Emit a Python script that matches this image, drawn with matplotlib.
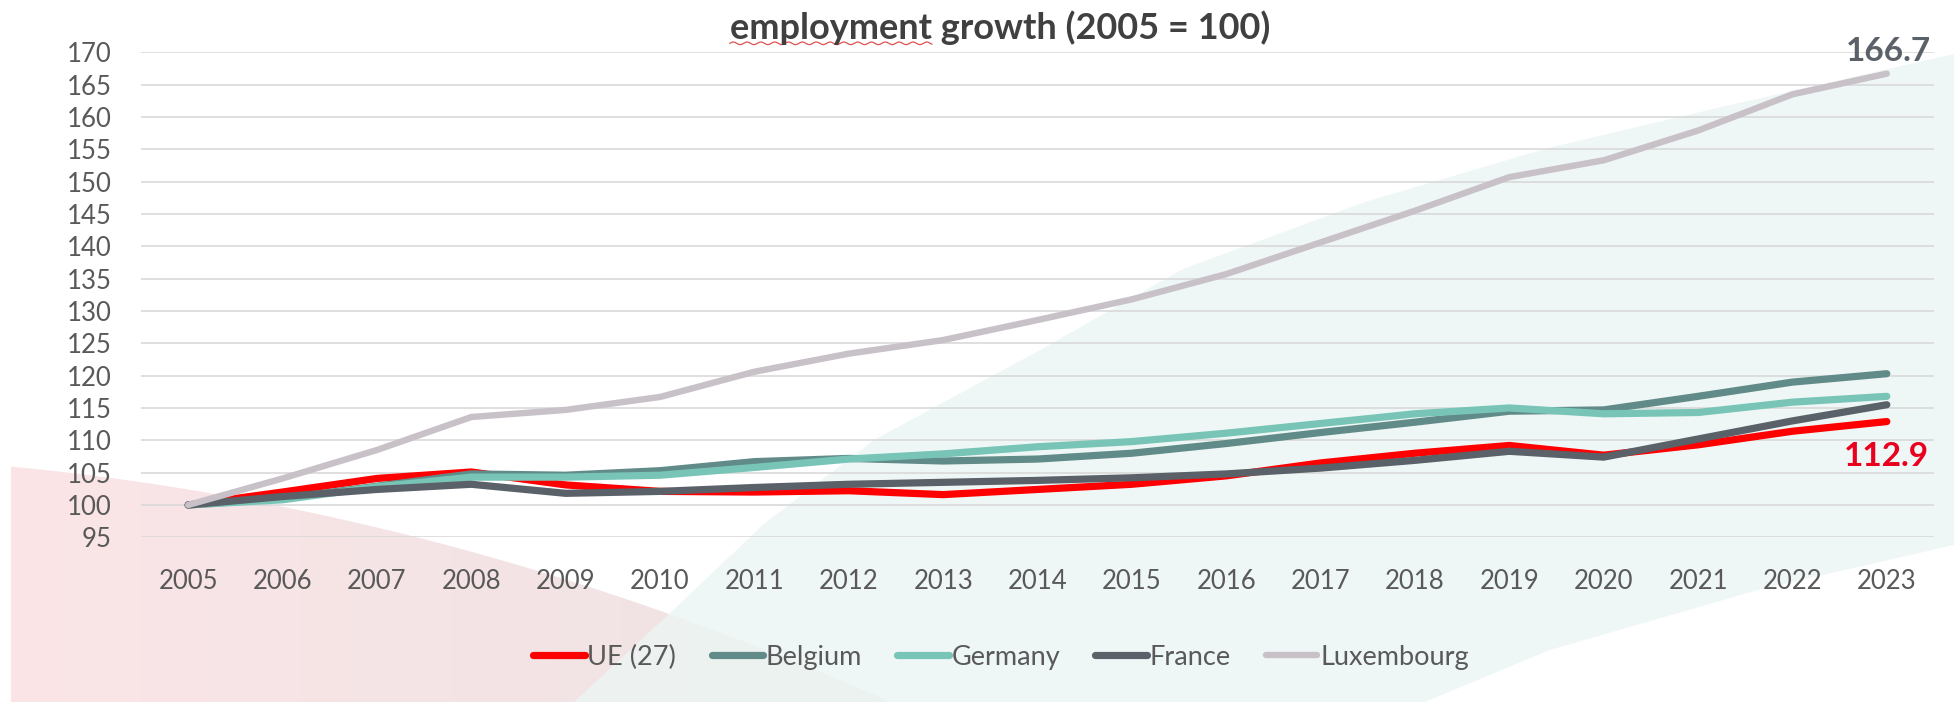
import numpy as np
import matplotlib
matplotlib.use("Agg")
import matplotlib.pyplot as plt
from matplotlib.patches import Polygon

# ---------------- data ----------------
years = [str(y) for y in range(2005, 2024)]
ue = [100, 102.0, 104.1, 105.1, 103.1, 102.1, 102.0, 102.2, 101.6, 102.4,
      103.2, 104.5, 106.5, 108.0, 109.2, 107.7, 109.3, 111.4, 112.9]
belgium = [100, 101.0, 102.9, 104.8, 104.6, 105.3, 106.7, 107.2, 106.8, 107.1,
           108.0, 109.5, 111.2, 112.8, 114.5, 114.7, 116.8, 119.0, 120.3]
germany = [100, 100.8, 102.8, 104.3, 104.3, 104.6, 105.8, 107.1, 107.9, 109.0,
           109.8, 111.1, 112.6, 114.1, 115.0, 114.1, 114.3, 115.9, 116.8]
france = [100, 101.3, 102.4, 103.2, 101.8, 102.1, 102.7, 103.2, 103.5, 103.8,
          104.2, 104.8, 105.7, 106.9, 108.3, 107.4, 110.2, 113.0, 115.5]
luxembourg = [100, 104.1, 108.5, 113.6, 114.7, 116.7, 120.6, 123.4, 125.5, 128.6,
              131.8, 135.7, 140.6, 145.5, 150.7, 153.3, 157.9, 163.5, 166.7]
series_names = ["UE (27)", "Belgium", "Germany", "France", "Luxembourg"]
yticks = list(range(95, 171, 5))

colors = ["#FF0000", "#618B88", "#78C5B7", "#5B6169", "#C8C1C8"]

plt.rcParams['font.family'] = ['Lato', 'DejaVu Sans']

W, H = 1954, 702
fig = plt.figure(figsize=(W / 100, H / 100), dpi=100)

# ---------------- decorative background ----------------
bg = fig.add_axes([0, 0, 1, 1], zorder=0)
bg.set_xlim(0, W)
bg.set_ylim(H, 0)
bg.axis('off')

# pink shape (lower-left) with horizontal gradient
px = np.array([11, 191, 383, 542, 701, 893])
py = np.array([467, 490, 527, 573, 627, 702])
cf = np.polyfit(px, py, 2)
xx = np.linspace(11, 893, 60)
yy = np.polyval(cf, xx)
pink_pts = [(11, 702)] + list(zip(xx, yy)) + [(893, 702)]
pink_poly = Polygon(pink_pts, closed=True, facecolor='none', edgecolor='none')
bg.add_patch(pink_poly)
grad = np.linspace(0, 1, 256)[None, :, None]
c0 = np.array([251, 229, 231]) / 255
c1 = np.array([238, 227, 228]) / 255
img = c0 * (1 - grad) + c1 * grad
im = bg.imshow(np.repeat(img, 2, axis=0), extent=[0, 900, 702, 440], aspect='auto', zorder=1)
im.set_clip_path(pink_poly)

# teal shape
upper = [(574, 702), (670, 613), (765, 523), (874, 440), (1040, 350), (1183, 269),
         (1365, 202), (1548, 148), (1730, 105), (1954, 54)]
lower = [(1954, 545), (1758, 590), (1550, 650), (1425, 702)]
teal = Polygon(upper + lower, closed=True, facecolor='#ECF6F4', edgecolor='none',
               alpha=0.8, zorder=2)
bg.add_patch(teal)

# ---------------- main chart ----------------
ax = fig.add_axes([141 / W, 1 - 537.3 / H, (1934 - 141) / W, (537.3 - 52.3) / H], zorder=1)
ax.patch.set_alpha(0)
x = np.arange(len(years))
data = [ue, belgium, germany, france, luxembourg]
for vals, name, col in zip(data, series_names, colors):
    lw = 4.6 if name == "Luxembourg" else 5.2
    ax.plot(x, vals, color=col, lw=lw, label=name, solid_capstyle='round',
            solid_joinstyle='round', zorder=3)

ax.set_xlim(-0.5, len(years) - 0.5)
ax.set_ylim(95, 170)
ax.set_yticks(yticks)
ax.set_xticks(x)
ax.set_xticklabels(years)
ax.grid(axis='y', color='#D9D9D9', lw=1.2, zorder=0)
ax.set_axisbelow(True)
for s in ax.spines.values():
    s.set_visible(False)
ax.tick_params(axis='y', length=0, pad=21, labelsize=18.5, labelcolor='#595959')
ax.tick_params(axis='x', length=0, pad=23, labelsize=18.5, labelcolor='#595959')

# end labels
ax.annotate(f"{luxembourg[-1]:.1f}", xy=(x[-1], luxembourg[-1]), xytext=(1, 16),
            textcoords='offset points', ha='center', va='center', fontsize=24,
            fontweight='bold', color='#5B6169')
ax.annotate(f"{ue[-1]:.1f}", xy=(x[-1], ue[-1]), xytext=(0, -25),
            textcoords='offset points', ha='center', va='center', fontsize=24,
            fontweight='bold', color='#E8001C')

# legend
handles, labels = ax.get_legend_handles_labels()
fig.legend(handles, labels, loc='center', bbox_to_anchor=(1001 / W, 1 - 657 / H),
           ncol=5, frameon=False, fontsize=19.5, handlelength=1.9, handletextpad=0.1,
           columnspacing=1.3, labelcolor='#595959')

# title
title_txt = "employment growth (2005 = 100)"
t = fig.text(1000 / W, 1 - 28 / H, title_txt, ha='center', va='center', fontsize=26,
             fontweight='bold', color='#404040')

# spell-check squiggle under first word
fig.canvas.draw()
r = fig.canvas.get_renderer()
tb = t.get_window_extent(r)
tmp = fig.text(0, 0, title_txt.split()[0], fontsize=26, fontweight='bold')
wb = tmp.get_window_extent(r)
tmp.remove()
sx = np.linspace(tb.x0, tb.x0 + wb.width, 200)
sy_px = tb.y0 + 2 + 1.3 * np.sin((sx - tb.x0) / 2.2)
bg.plot(sx, H - sy_px, color='#E05050', lw=0.9, zorder=5)

fig.savefig("out.png", dpi=100)
